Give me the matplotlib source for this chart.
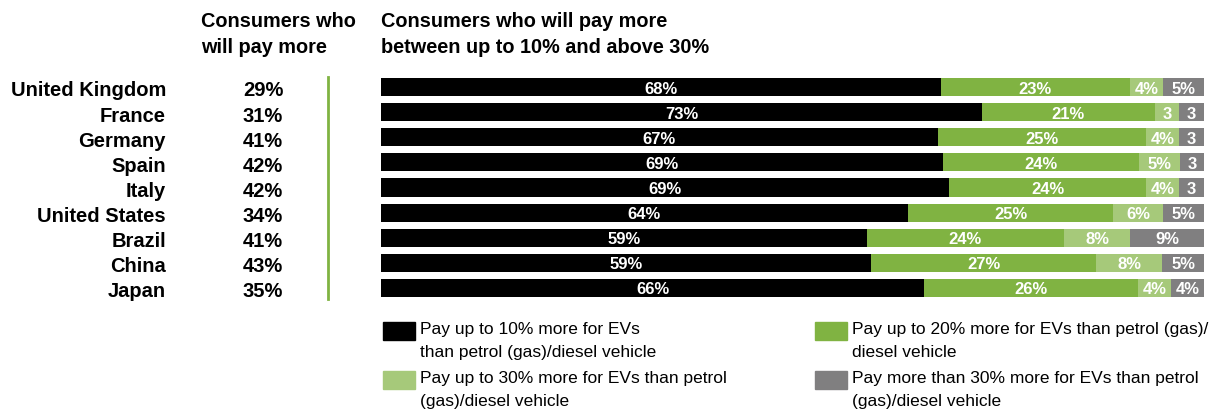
import numpy as np
import matplotlib.pyplot as plt
from matplotlib.patches import Rectangle

plt.rcParams['font.family'] = ['Liberation Sans', 'DejaVu Sans']

#==============================
# Dados
#==============================
paises = ['United Kingdom', 'France', 'Germany', 'Spain', 'Italy',
          'United States', 'Brazil', 'China', 'Japan']
pagam_mais = ['29%', '31%', '41%', '42%', '42%', '34%', '41%', '43%', '35%']

ate10 = [68, 73, 67, 69, 69, 64, 59, 59, 66]
ate20 = [23, 21, 25, 24, 24, 25, 24, 27, 26]
ate30 = [4, 3, 4, 5, 4, 6, 8, 8, 4]
acima30 = [5, 3, 3, 3, 3, 5, 9, 5, 4]

rot10 = ['68%', '73%', '67%', '69%', '69%', '64%', '59%', '59%', '66%']
rot20 = ['23%', '21%', '25%', '24%', '24%', '25%', '24%', '27%', '26%']
rot30 = ['4%', '3', '4%', '5%', '4%', '6%', '8%', '8%', '4%']
rotacima = ['5%', '3', '3', '3', '3', '5%', '9%', '5%', '4%']

series = ['Pay up to 10% more for EVs\nthan petrol (gas)/diesel vehicle',
          'Pay up to 20% more for EVs than petrol (gas)/\ndiesel vehicle',
          'Pay up to 30% more for EVs than petrol\n(gas)/diesel vehicle',
          'Pay more than 30% more for EVs than petrol\n(gas)/diesel vehicle']
cores = ['#000000', '#80b342', '#a6c97a', '#807f80']

#==============================
# Figura
#==============================
fig = plt.figure(figsize=(12.1, 4.14), dpi=100)
ax = fig.add_axes([381 / 1210, 1 - 301.5 / 414, 823 / 1210, 226 / 414])

valores = np.array([ate10, ate20, ate30, acima30], dtype=float)
valores = valores / valores.sum(axis=0) * 100  # cada barra ocupa 100%
rotulos = [rot10, rot20, rot30, rotacima]
y = np.arange(len(paises))

esquerda = np.zeros(len(paises))
for vals, rots, cor in zip(valores, rotulos, cores):
    ax.barh(y, vals, left=esquerda, height=0.72, color=cor, linewidth=0)
    for i in range(len(paises)):
        ax.text(esquerda[i] + vals[i] / 2, y[i] + 0.04, rots[i], ha='center',
                va='center', color='white', fontsize=12, fontweight='bold')
    esquerda = esquerda + vals

ax.set_xlim(0, 100)
ax.set_ylim(len(paises) - 0.5, -0.5)
ax.axis('off')

# paises e coluna de percentuais
for i, (p, v) in enumerate(zip(paises, pagam_mais)):
    fy = 1 - (91 + 25.1 * i) / 414
    fig.text(166 / 1210, fy, p, ha='right', va='center', fontsize=14.5,
             fontweight='bold')
    fig.text(263 / 1210, fy, v, ha='center', va='center', fontsize=14.5,
             fontweight='bold')

fig.add_artist(plt.Line2D([328 / 1210, 328 / 1210], [1 - 78 / 414, 1 - 300 / 414],
                          color='#80b342', linewidth=2))

# titulos
fig.text(201 / 1210, 1 - 12 / 414, 'Consumers who\nwill pay more', ha='left',
         va='top', fontsize=14.3, fontweight='bold', linespacing=1.45)
fig.text(381 / 1210, 1 - 12 / 414,
         'Consumers who will pay more\nbetween up to 10% and above 30%',
         ha='left', va='top', fontsize=14.3, fontweight='bold', linespacing=1.45)

#==============================
# Legenda
#==============================
pos = [(383, 323), (815, 323), (383, 372), (815, 372)]
for (px, py), texto, cor in zip(pos, series, cores):
    fig.add_artist(Rectangle((px / 1210, 1 - (py + 18) / 414), 32 / 1210, 18 / 414,
                             color=cor, transform=fig.transFigure))
    fig.text((px + 37) / 1210, 1 - (py - 1) / 414, texto, ha='left', va='top',
             fontsize=12.5, linespacing=1.68)

plt.savefig('out.png')
